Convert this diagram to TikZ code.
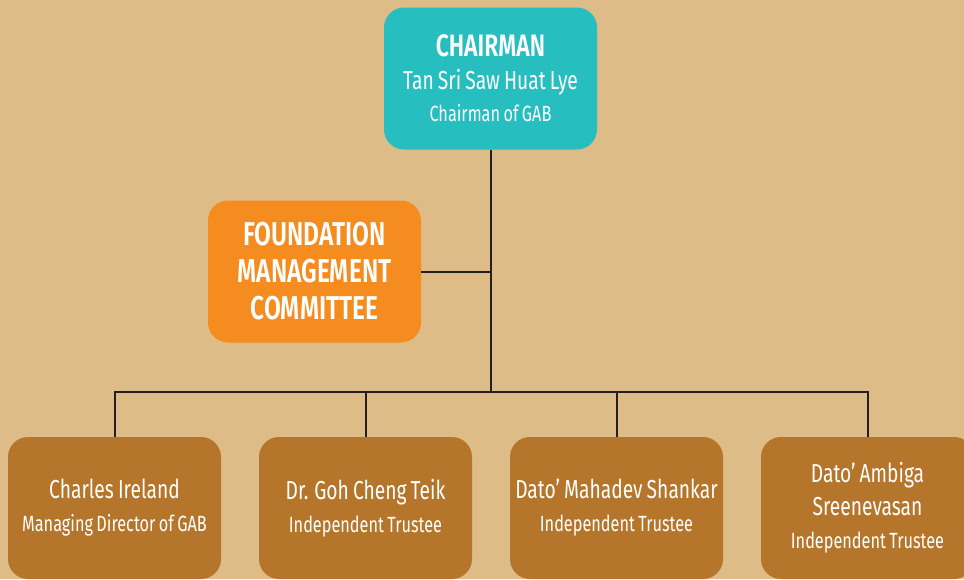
\documentclass[tikz,border=0pt]{standalone}
\usepackage{fontspec}
\setmainfont{Fira Sans}[FakeStretch=0.74, WordSpace=0.8, BoldFont={Fira Sans SemiBold}]
\usetikzlibrary{positioning}
\definecolor{tanbg}{HTML}{DEBC88}
\definecolor{chairteal}{HTML}{27BEBF}
\definecolor{fmcorange}{HTML}{F58C20}
\definecolor{trustbrown}{HTML}{B5752A}
\definecolor{linkdark}{HTML}{231F20}
\newcommand{\headfont}{\fontsize{15.5pt}{18pt}\selectfont\bfseries}
\newcommand{\namefont}{\fontsize{13pt}{16pt}\selectfont}
\newcommand{\rolefont}{\fontsize{11pt}{16pt}\selectfont}

\tikzset{
  orgbox/.style={rounded corners=10pt, minimum width=106.5pt, minimum height=71pt,
    inner sep=0pt, text=white, align=center},
  chairbox/.style={orgbox, fill=chairteal, font=\fontsize{11pt}{16.25pt}\selectfont},
  fmcbox/.style={orgbox, fill=fmcorange, font=\fontsize{16.5pt}{18.5pt}\selectfont\bfseries},
  trustbox/.style={orgbox, fill=trustbrown, font=\fontsize{11pt}{16.5pt}\selectfont},
  link/.style={draw=linkdark, line width=1pt}
}

\begin{document}
\begin{tikzpicture}[x=0.5pt,y=-0.5pt]
\useasboundingbox (0,0) rectangle (964,579);
\fill[tanbg] (0,0) rectangle (964,579);

\node[chairbox] (chair) at (490.5,78.5)
  {{\headfont CHAIRMAN}\\{\namefont Tan Sri Saw Huat Lye}\\{\rolefont Chairman of GAB}};
\node[fmcbox] (fmc) at (314.5,271.5) {FOUNDATION\\MANAGEMENT\\COMMITTEE};

\node[trustbox] (ireland) at (114.5,508)
  {{\namefont Charles Ireland}\\{\rolefont Managing Director of GAB}};
\node[trustbox] (goh) at (365.5,508)
  {{\namefont Dr. Goh Cheng Teik}\\{\rolefont Independent Trustee}};
\node[trustbox] (shankar) at (616.5,508)
  {{\namefont Dato’ Mahadev Shankar}\\{\rolefont Independent Trustee}};
\node[trustbox] (sreene) at (867.5,508)
  {{\namefont Dato’ Ambiga}\\{\namefont Sreenevasan}\\{\rolefont Independent Trustee}};

% connectors
\coordinate (bus) at (chair.south |- 0,392);
\draw[link] (chair.south) -- (bus);
\draw[link] (fmc.east) -- (fmc.east -| chair.south);
\draw[link] (ireland.north) -- (ireland.north |- bus) -- (sreene.north |- bus) -- (sreene.north);
\draw[link] (goh.north) -- (goh.north |- bus);
\draw[link] (shankar.north) -- (shankar.north |- bus);
\end{tikzpicture}
\end{document}
